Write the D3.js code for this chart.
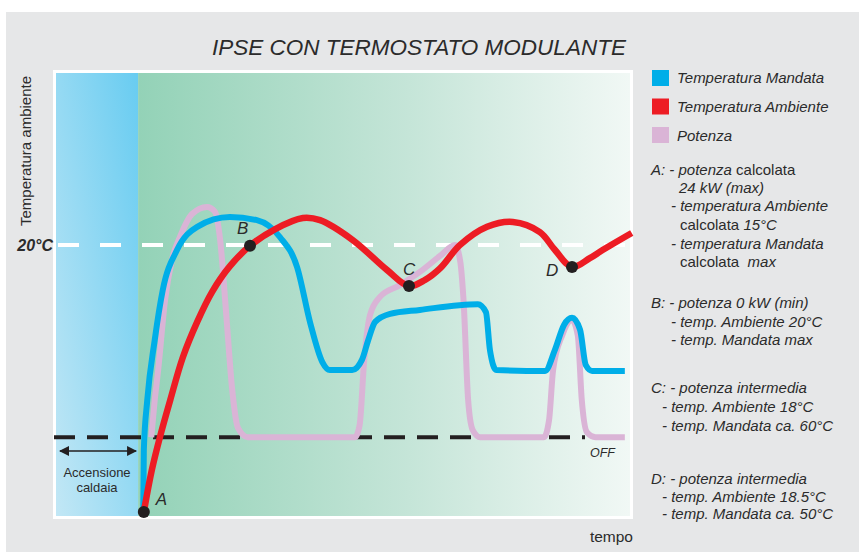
<!DOCTYPE html>
<html>
<head>
<meta charset="utf-8">
<script src="https://cdn.jsdelivr.net/npm/d3@7"></script>
<style>
  body { margin: 0; background: #fff; }
  text { font-family: "Liberation Sans", Arial, sans-serif; fill: #2b2b2b; }
</style>
</head>
<body>
<div id="grafico"></div>
<script>
// valori (tempo 0-100, livello 0-100)
const titolo = "IPSE CON TERMOSTATO MODULANTE";
const serie = ["Temperatura Mandata", "Temperatura Ambiente", "Potenza"];
const colori = ["#00aee8", "#ed1c24", "#dab4d6"];

const fineAccensione = 14.3;
const livello20 = 61.1;
const livelloOff = 17.6;
const etichetteY = ["20°C"];
const etichettaOff = "OFF";

const ambiente = [
  [15.3, 0.7], [16.7, 10.2], [18.1, 17.6], [19.9, 26.0], [22.1, 35.7], [24.6, 43.7],
  [27.2, 50.5], [30.3, 56.3], [33.8, 60.9], [38.2, 64.7], [43.0, 67.2], [46.0, 66.7],
  [51.7, 62.2], [57.7, 55.4], [61.5, 51.8], [64.3, 53.2], [66.9, 55.8], [70.4, 61.1],
  [75.1, 65.2], [79.6, 66.3], [84.3, 64.0], [86.9, 60.0], [89.9, 56.1], [93.0, 58.1],
  [95.3, 60.0], [100.3, 63.8]
];

const mandata = [
  [15.2, 0.7], [15.3, 14.7], [15.9, 26.0], [17.2, 39.6], [18.6, 50.9], [21.1, 60.0],
  [24.6, 65.2], [30.3, 67.4], [35.0, 66.7], [39.0, 62.9], [42.0, 56.1], [44.3, 43.4],
  [46.4, 34.6], [47.7, 32.8], [51.6, 32.8], [53.3, 35.1], [54.4, 39.6], [55.6, 43.7],
  [58.2, 45.5], [63.4, 46.4], [73.5, 47.7], [74.9, 45.9], [75.6, 37.3], [76.7, 32.8],
  [85.2, 32.6], [86.9, 37.3], [88.5, 43.0], [89.9, 44.6], [91.3, 41.9], [92.3, 33.9],
  [93.4, 32.6], [99.1, 32.6]
];

const potenza = [
  [16.6, 17.6], [17.2, 26.0], [17.8, 32.8], [19.0, 48.6], [20.2, 57.7], [21.6, 62.9],
  [23.7, 68.1], [26.3, 69.7], [27.7, 68.6], [28.6, 62.2], [29.6, 46.4], [30.7, 28.3],
  [31.7, 19.7], [33.4, 17.6], [52.1, 17.6], [52.9, 20.4], [53.7, 35.1], [54.7, 45.2],
  [56.4, 49.3], [59.9, 52.0], [63.4, 55.0], [66.9, 58.6], [69.5, 61.1], [70.4, 57.6],
  [71.0, 48.6], [71.8, 26.0], [72.6, 19.2], [73.9, 17.6], [85.0, 17.6], [85.9, 21.5],
  [86.6, 32.8], [88.2, 40.7], [89.9, 44.1], [90.9, 40.7], [91.6, 26.0], [92.5, 18.7],
  [94.0, 17.6], [99.1, 17.6]
];

const punti = [
  { nome: "A", t: 15.3, v: 0.7 },
  { nome: "B", t: 33.8, v: 60.9 },
  { nome: "C", t: 61.5, v: 51.8 },
  { nome: "D", t: 89.9, v: 56.1 }
];

// note a destra: [rientro, [testo, corsivo?]...]
const note = [
  [0, ["A: - potenza ", 1], ["calcolata", 0]],
  [28, ["24 kW (max)", 1]],
  [20, ["- temperatura Ambiente", 1]],
  [29, ["calcolata ", 0], ["15°C", 1]],
  [20, ["- temperatura Mandata", 1]],
  [29, ["calcolata  ", 0], ["max", 1]],
  null,
  [0, ["B: - potenza 0 kW (min)", 1]],
  [20, ["- temp. Ambiente 20°C", 1]],
  [20, ["- temp. Mandata max", 1]],
  null,
  [0, ["C: - potenza intermedia", 1]],
  [11, ["- temp. Ambiente 18°C", 1]],
  [11, ["- temp. Mandata ca. 60°C", 1]],
  null,
  [0, ["D: - potenza intermedia", 1]],
  [11, ["- temp. Ambiente 18.5°C", 1]],
  [11, ["- temp. Mandata ca. 50°C", 1]]
];
const noteBaseline = [175, 193, 211, 230, 249, 267, 0, 308, 327, 345, 0, 393, 412, 431, 0, 484, 502, 519];

const width = 859, height = 552;
const svg = d3.select("#grafico")
  .append("svg")
  .attr("width", width)
  .attr("height", height);

const x = d3.scaleLinear().domain([0, 100]).range([56, 630]);
const y = d3.scaleLinear().domain([0, 100]).range([515, 73]);

// sfondi
const defs = svg.append("defs");
const gBlu = defs.append("linearGradient").attr("id", "gradBlu")
  .attr("x1", 0).attr("y1", 1).attr("x2", 1).attr("y2", 0);
gBlu.append("stop").attr("offset", "0%").attr("stop-color", "#c2e7f5");
gBlu.append("stop").attr("offset", "100%").attr("stop-color", "#68ccf1");
const gVerde = defs.append("linearGradient").attr("id", "gradVerde");
gVerde.append("stop").attr("offset", "0%").attr("stop-color", "#93d2b7");
gVerde.append("stop").attr("offset", "55%").attr("stop-color", "#c5e5d8");
gVerde.append("stop").attr("offset", "100%").attr("stop-color", "#f1f8f5");

svg.append("rect").attr("x", 6).attr("y", 12).attr("width", width - 6).attr("height", height - 12)
  .attr("fill", "#e6e7e8");
svg.append("rect").attr("x", 53).attr("y", 70).attr("width", 580).attr("height", 449)
  .attr("fill", "#fff");
svg.append("rect").attr("x", x(0)).attr("y", 73).attr("width", x(fineAccensione) - x(0)).attr("height", 443)
  .attr("fill", "url(#gradBlu)");
svg.append("rect").attr("x", x(fineAccensione)).attr("y", 73).attr("width", x(100) - x(fineAccensione)).attr("height", 443)
  .attr("fill", "url(#gradVerde)");

// linee tratteggiate
svg.append("line")
  .attr("x1", 58).attr("x2", x(100))
  .attr("y1", y(livello20)).attr("y2", y(livello20))
  .attr("stroke", "#fff").attr("stroke-width", 4).attr("stroke-dasharray", "21,21");
svg.append("line")
  .attr("x1", 54).attr("x2", 585)
  .attr("y1", y(livelloOff)).attr("y2", y(livelloOff))
  .attr("stroke", "#231f20").attr("stroke-width", 4).attr("stroke-dasharray", "21,12");

// curve
const linea = d3.line().x(d => x(d[0])).y(d => y(d[1])).curve(d3.curveMonotoneX);
const lineaMorbida = d3.line().x(d => x(d[0])).y(d => y(d[1])).curve(d3.curveCatmullRom.alpha(0.5));
[[potenza, 2, 6, linea], [mandata, 0, 6, linea], [ambiente, 1, 6.5, lineaMorbida]].forEach(([dati, c, w, gen]) => {
  svg.append("path")
    .datum(dati)
    .attr("d", gen)
    .attr("fill", "none")
    .attr("stroke", colori[c])
    .attr("stroke-width", w)
    .attr("stroke-linejoin", "round");
});

// punti A B C D
svg.selectAll("circle.punto")
  .data(punti)
  .enter()
  .append("circle")
  .attr("class", "punto")
  .attr("cx", d => x(d.t))
  .attr("cy", d => y(d.v))
  .attr("r", 6)
  .attr("fill", "#231f20");

const offsetEtichette = { A: [12, -7], B: [-13, -12], C: [-6, -11], D: [-26, 9] };
svg.selectAll("text.punto")
  .data(punti)
  .enter()
  .append("text")
  .attr("x", d => x(d.t) + offsetEtichette[d.nome][0])
  .attr("y", d => y(d.v) + offsetEtichette[d.nome][1])
  .attr("font-size", 17)
  .attr("font-style", "italic")
  .text(d => d.nome);

// asse sinistro: solo 20°C
const asseY = svg.append("g")
  .attr("transform", "translate(53,0)")
  .call(d3.axisLeft(y).tickValues([livello20]).tickSize(0).tickPadding(0)
    .tickFormat((d, i) => etichetteY[i]));
asseY.select(".domain").remove();
asseY.selectAll("text")
  .attr("font-family", "Liberation Sans, Arial, sans-serif")
  .attr("font-size", 16)
  .attr("font-weight", "bold")
  .attr("font-style", "italic")
  .attr("fill", "#231f20");

svg.append("text")
  .attr("x", 590).attr("y", 457)
  .attr("font-size", 12.5).attr("font-style", "italic")
  .text(etichettaOff);

// titoli assi
svg.append("text")
  .attr("transform", "translate(31,151) rotate(-90)")
  .attr("text-anchor", "middle")
  .attr("font-size", 15)
  .attr("fill", "#444")
  .text("Temperatura ambiente");

svg.append("text")
  .attr("x", 633).attr("y", 542)
  .attr("text-anchor", "end")
  .attr("font-size", 15.5)
  .text("tempo");

svg.append("text")
  .attr("x", 419).attr("y", 55)
  .attr("text-anchor", "middle")
  .attr("font-size", 22.5)
  .attr("font-style", "italic")
  .text(titolo);

// accensione caldaia
const frecce = defs.append("marker").attr("id", "punta")
  .attr("viewBox", "0 0 10 10").attr("refX", 9).attr("refY", 5)
  .attr("markerWidth", 10).attr("markerHeight", 10)
  .attr("markerUnits", "userSpaceOnUse")
  .attr("orient", "auto-start-reverse");
frecce.append("path").attr("d", "M0,0L10,5L0,10Z").attr("fill", "#231f20");
svg.append("line")
  .attr("x1", x(0) + 4).attr("x2", x(fineAccensione) - 2)
  .attr("y1", 451).attr("y2", 451)
  .attr("stroke", "#231f20").attr("stroke-width", 1.5)
  .attr("marker-start", "url(#punta)").attr("marker-end", "url(#punta)");
svg.append("text").attr("x", 97).attr("y", 477).attr("text-anchor", "middle")
  .attr("font-size", 13).attr("fill", "#3a3a3a").text("Accensione");
svg.append("text").attr("x", 97).attr("y", 492).attr("text-anchor", "middle")
  .attr("font-size", 13).attr("fill", "#3a3a3a").text("caldaia");

// legenda
const legenda = svg.append("g");
serie.forEach((s, i) => {
  legenda.append("rect")
    .attr("x", 652).attr("y", 70 + i * 28.5)
    .attr("width", 17).attr("height", 16)
    .attr("fill", colori[i]);
  legenda.append("text")
    .attr("x", 677).attr("y", 83 + i * 29)
    .attr("font-size", 15).attr("font-style", "italic")
    .text(s);
});

// note
note.forEach((riga, i) => {
  if (!riga) return;
  const t = svg.append("text")
    .attr("x", 651 + riga[0])
    .attr("y", noteBaseline[i])
    .attr("font-size", 15)
    .attr("xml:space", "preserve")
    .style("white-space", "pre");
  riga.slice(1).forEach(p => {
    t.append("tspan").attr("font-style", p[1] ? "italic" : "normal").text(p[0]);
  });
});
</script>
</body>
</html>
